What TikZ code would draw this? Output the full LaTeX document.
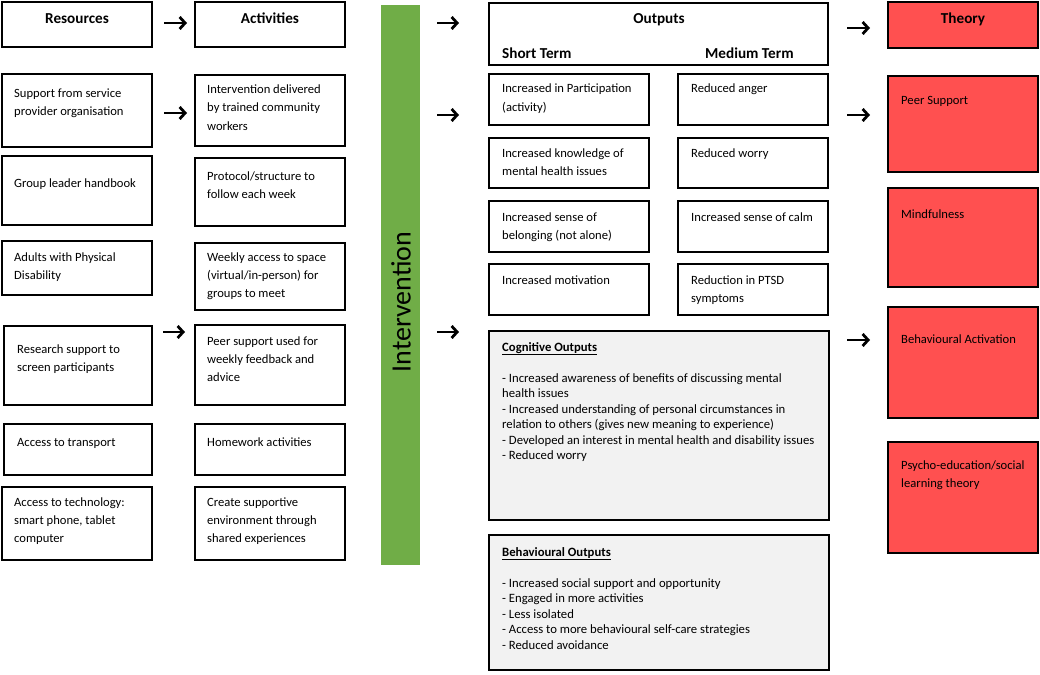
\documentclass[tikz,border=0pt]{standalone}
\usepackage{fontspec}
\setmainfont{Carlito}
\usetikzlibrary{arrows.meta}
\definecolor{redbox}{HTML}{FF5050}
\definecolor{greenbar}{HTML}{70AD47}
\definecolor{graybox}{HTML}{F2F2F2}
\newcommand\bx[6]{\node[#1, minimum width={#5-#3}, minimum height={#6-#4}] (#2) at ({(#3+#5)/2},{(#4+#6)/2}) {};}
\newcommand\arw[4]{\coordinate (#1s) at (#2,#4); \coordinate (#1e) at (#3,#4); \draw[arr] (#1s) -- (#1e);}
\newcommand\T[1]{\parbox[t]{330pt}{#1}}
\begin{document}
\begin{tikzpicture}[x=1pt,y=-1pt,
  box/.style={draw=black, line width=2.9pt, fill=white, inner sep=0pt, rectangle},
  rbox/.style={box, fill=redbox},
  gbox/.style={box, fill=graybox},
  gbar/.style={fill=greenbar, inner sep=0pt, rectangle},
  txt/.style={anchor=base west, inner sep=0pt, font=\fontsize{12.6}{18}\selectfont},
  ctxt/.style={anchor=base west, inner sep=0pt, font=\fontsize{12.7}{15.5}\selectfont},
  hdr/.style={anchor=base, inner sep=0pt, font=\bfseries\fontsize{15.2}{18}\selectfont},
  arr/.style={line width=2.8pt, -{Straight Barb[length=5.5pt,width=12pt]}}]
\useasboundingbox[fill=white] (0,0) rectangle (1040,674);
% Resources column
\bx{box}{r0}{2}{2}{152}{47}
\bx{box}{r1}{2}{74}{152}{147}
\bx{box}{r2}{2}{156}{152}{225}
\bx{box}{r3}{2}{241}{152}{295}
\bx{box}{r4}{4}{326}{152}{405}
\bx{box}{r5}{4}{424}{152}{475}
\bx{box}{r6}{2}{487}{152}{560}
% Activities column
\bx{box}{a0}{195}{2}{345}{47}
\bx{box}{a1}{195}{75}{345}{146}
\bx{box}{a2}{195}{158}{345}{226}
\bx{box}{a3}{195}{243}{345}{310}
\bx{box}{a4}{195}{325}{345}{405}
\bx{box}{a5}{195}{424}{345}{475}
\bx{box}{a6}{195}{487}{345}{560}
% Intervention bar
\bx{gbar}{bar}{381}{5}{420}{565}
\node[rotate=90, inner sep=0pt, font=\fontsize{28}{30}\selectfont] (intv) at (401,302) {Intervention};
% Outputs
\bx{box}{o0}{489}{3}{828}{65}
\bx{box}{s1}{489}{74}{649}{125}
\bx{box}{s2}{489}{138}{649}{188}
\bx{box}{s3}{489}{201}{649}{252}
\bx{box}{s4}{489}{264}{649}{315}
\bx{box}{m1}{678}{74}{828}{125}
\bx{box}{m2}{678}{138}{828}{188}
\bx{box}{m3}{678}{201}{828}{252}
\bx{box}{m4}{678}{264}{828}{315}
\bx{gbox}{cog}{489}{331}{829}{520}
\bx{gbox}{beh}{489}{535}{829}{670}
% Theory
\bx{rbox}{t0}{888}{2}{1038}{48}
\bx{rbox}{t1}{888}{76}{1038}{172}
\bx{rbox}{t2}{888}{188}{1038}{287}
\bx{rbox}{t3}{888}{307}{1038}{418}
\bx{rbox}{t4}{888}{442}{1038}{553}
% Headers
\node[hdr] (hres) at (77,24) {Resources};
\node[hdr] (hact) at (270,24) {Activities};
\node[hdr] (hout) at (659,24) {Outputs};
\node[hdr, anchor=base west] (hst) at (502,59) {Short Term};
\node[hdr, anchor=base west] (hmt) at (705,59) {Medium Term};
\node[hdr] (hth) at (963,24) {Theory};
% Resources text
\node[txt] (tr1) at (14,98) {\T{Support from service\\provider organisation}};
\node[txt] (tr2) at (14,187) {\T{Group leader handbook}};
\node[txt] (tr3) at (14,261) {\T{Adults with Physical\\Disability}};
\node[txt] (tr4) at (17,353) {\T{Research support to\\screen participants}};
\node[txt] (tr5) at (17,446) {\T{Access to transport}};
\node[txt] (tr6) at (14,506) {\T{Access to technology:\\smart phone, tablet\\computer}};
% Activities text
\node[txt] (ta1) at (207,94) {\T{Intervention delivered\\by trained community\\workers}};
\node[txt] (ta2) at (207,180) {\T{Protocol/structure to\\follow each week}};
\node[txt] (ta3) at (207,261) {\T{Weekly access to space\\(virtual/in-person) for\\groups to meet}};
\node[txt] (ta4) at (207,345) {\T{Peer support used for\\weekly feedback and\\advice}};
\node[txt] (ta5) at (207,446) {\T{Homework activities}};
\node[txt] (ta6) at (207,506) {\T{Create supportive\\environment through\\shared experiences}};
% Output text
\node[txt] (ts1) at (502,93) {\T{Increased in Participation\\(activity)}};
\node[txt] (ts2) at (502,157) {\T{Increased knowledge of\\mental health issues}};
\node[txt] (ts3) at (502,221) {\T{Increased sense of\\belonging (not alone)}};
\node[txt] (ts4) at (502,284) {\T{Increased motivation}};
\node[txt] (tm1) at (691,93) {\T{Reduced anger}};
\node[txt] (tm2) at (691,157) {\T{Reduced worry}};
\node[txt] (tm3) at (691,221) {\T{Increased sense of calm}};
\node[txt] (tm4) at (691,284) {\T{Reduction in PTSD\\symptoms}};
\node[ctxt] (tcog) at (502,351) {\T{\textbf{\underline{Cognitive Outputs}}\\[15.5pt]
- Increased awareness of benefits of discussing mental\\
health issues\\
- Increased understanding of personal circumstances in\\
relation to others (gives new meaning to experience)\\
- Developed an interest in mental health and disability issues\\
- Reduced worry}};
\node[ctxt] (tbeh) at (502,556) {\T{\textbf{\underline{Behavioural Outputs}}\\[15.5pt]
- Increased social support and opportunity\\
- Engaged in more activities\\
- Less isolated\\
- Access to more behavioural self-care strategies\\
- Reduced avoidance}};
% Theory text
\node[txt] (tt1) at (901,104) {\T{Peer Support}};
\node[txt] (tt2) at (901,218) {\T{Mindfulness}};
\node[txt] (tt3) at (901,343) {\T{Behavioural Activation}};
\node[txt] (tt4) at (901,469) {\T{Psycho-education/social\\learning theory}};
% Arrows
\arw{p1}{164}{187}{23}
\arw{p2}{164}{187}{113}
\arw{p3}{163}{185}{332}
\arw{q1}{437}{459}{23}
\arw{q2}{437}{459}{115}
\arw{q3}{437}{459}{332}
\arw{u1}{847}{870}{28}
\arw{u2}{847}{870}{115}
\arw{u3}{847}{870}{340}
\end{tikzpicture}
\end{document}
